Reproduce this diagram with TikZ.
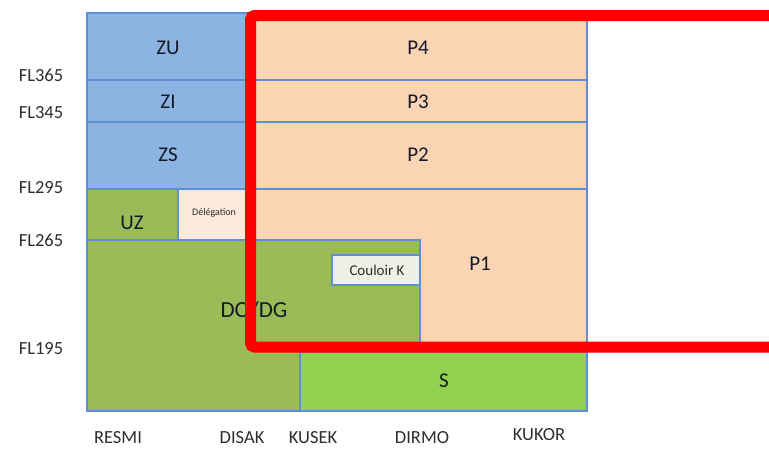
\documentclass[tikz,border=0pt]{standalone}
\usepackage{fontspec}
\setmainfont{Carlito}
\definecolor{bl}{HTML}{8DB3E2}
\definecolor{edge}{HTML}{5E8FD0}
\definecolor{pe}{HTML}{FBD4B4}
\definecolor{gr}{HTML}{9BBB59}
\definecolor{sg}{HTML}{92D050}
\definecolor{dl}{HTML}{FDE9DC}
\definecolor{ck}{HTML}{EEF1E6}
\definecolor{ink}{HTML}{151A28}
\definecolor{lab}{HTML}{2E2E2E}
\begin{document}
\begin{tikzpicture}[x=1pt,y=-1pt,
  region/.style={draw=edge,line width=2.2pt},
  big/.style={font=\fontsize{21}{21}\selectfont,text=ink,inner sep=0pt},
  side/.style={font=\fontsize{18.5}{18.5}\selectfont,text=lab,inner sep=0pt},
  small/.style={font=\fontsize{10}{10}\selectfont,text=lab,inner sep=0pt},
  mid/.style={font=\fontsize{15}{15}\selectfont,text=lab,inner sep=0pt}]
\useasboundingbox[fill=white] (0,0) rectangle (769,448);
% blue rows
\path[region,fill=bl] (87,13) rectangle (250,80);
\path[region,fill=bl] (87,80) rectangle (250,122);
\path[region,fill=bl] (87,122) rectangle (250,189);
% peach rows
\path[region,fill=pe] (250,13) rectangle (587,80);
\path[region,fill=pe] (250,80) rectangle (587,122);
\path[region,fill=pe] (250,122) rectangle (587,189);
\path[region,fill=pe] (178,189) rectangle (587,352);
% lower left
\path[region,fill=gr] (87,189) rectangle (178,240);
\path[region,fill=dl] (178,189) rectangle (250,240);
\path[region,fill=gr] (87,240) -- (420,240) -- (420,352) -- (300,352) -- (300,411) -- (87,411) -- cycle;
\path[region,fill=sg] (300,352) rectangle (587,411);
\path[region,fill=ck] (332,255) rectangle (420,285);
\draw[draw=edge,line width=2.2pt] (87,13) rectangle (587,411);
% labels in regions
\node[big] (zu) at (168,48) {ZU};
\node[big] (zi) at (168,102) {ZI};
\node[big] (zs) at (168,155) {ZS};
\node[big] (uz) at (132,223) {UZ};
\node[small] (del) at (214,213) {Délégation};
\node[big] (p4) at (418,48) {P4};
\node[big] (p3) at (418,102) {P3};
\node[big] (p2) at (418,155) {P2};
\node[big] (p1) at (480,264) {P1};
\node[mid] (ck) at (377,270) {Couloir K};
\node[big,font=\fontsize{23}{23}\selectfont] (dodg) at (254,310) {DO/DG};
\node[big] (s) at (444,381) {S};
% flight levels
\node[side] (fl365) at (41,75) {FL365};
\node[side] (fl345) at (41,113) {FL345};
\node[side] (fl295) at (41,188) {FL295};
\node[side] (fl265) at (41,240) {FL265};
\node[side] (fl195) at (41,349) {FL195};
% points
\node[side] (resmi) at (118,438) {RESMI};
\node[side] (disak) at (242,438) {DISAK};
\node[side] (kusek) at (313,438) {KUSEK};
\node[side] (dirmo) at (422,438) {DIRMO};
\node[side] (kukor) at (539,435) {KUKOR};
% red highlight frame
\draw[red,line width=11pt,rounded corners=4pt] (800,15.5) -- (250.5,15.5) -- (250.5,347) -- (800,347);
\end{tikzpicture}
\end{document}
